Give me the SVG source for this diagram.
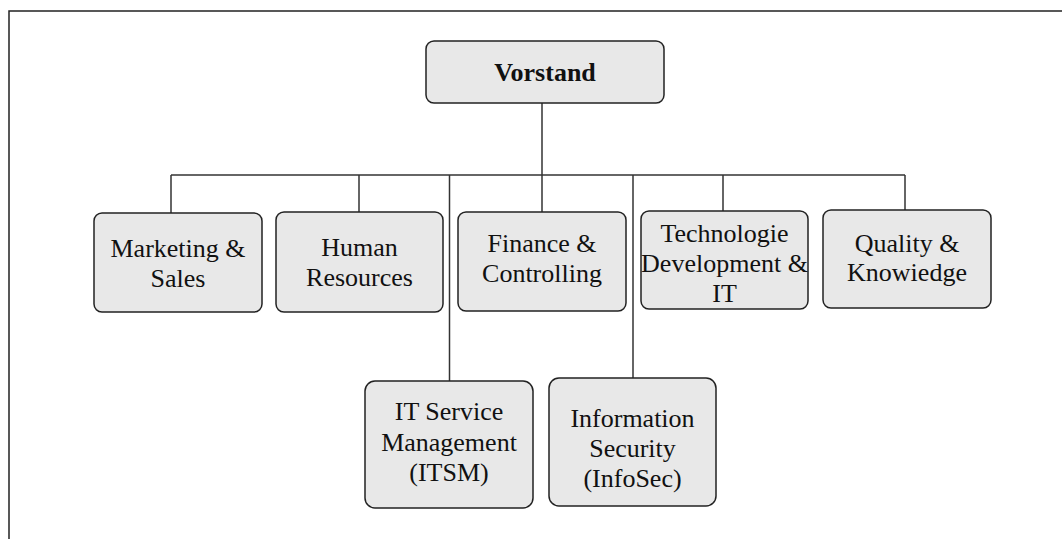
<svg xmlns="http://www.w3.org/2000/svg" width="1062" height="539" viewBox="0 0 1062 539">
<style>
.box{fill:#e8e8e8;stroke:#222;stroke-width:1.5}
.t{font-family:"Liberation Serif","Times New Roman",serif;font-size:26px;fill:#111;text-anchor:middle}
.b{font-weight:bold}
.c{fill:none;stroke:#333;stroke-width:1.5}
.frame{fill:none;stroke:#222;stroke-width:1.5}
</style>
<rect width="1062" height="539" fill="#fff"/>
<path class="frame" d="M9 539 V11 H1062"/>
<g id="connectors">
<path class="c" d="M542 103 V175"/>
<path class="c" d="M171 175 H905"/>
<path class="c" d="M171 175 V213"/>
<path class="c" d="M359 175 V212"/>
<path class="c" d="M449.5 175 V381"/>
<path class="c" d="M542 175 V212"/>
<path class="c" d="M633 175 V378"/>
<path class="c" d="M723 175 V211"/>
<path class="c" d="M905 175 V210"/>
</g>
<g id="vorstand">
<rect class="box" x="426" y="41" width="238" height="62" rx="8"/>
<text class="t b" x="545" y="81">Vorstand</text>
</g>
<g id="marketing">
<rect class="box" x="94" y="213" width="168" height="99" rx="8"/>
<text class="t" x="178" y="257">Marketing &amp;</text>
<text class="t" x="178" y="287">Sales</text>
</g>
<g id="hr">
<rect class="box" x="276" y="212" width="167" height="100" rx="8"/>
<text class="t" x="359.5" y="256">Human</text>
<text class="t" x="359.5" y="286">Resources</text>
</g>
<g id="finance">
<rect class="box" x="458" y="212" width="168" height="99" rx="8"/>
<text class="t" x="542" y="252">Finance &amp;</text>
<text class="t" x="542" y="282">Controlling</text>
</g>
<g id="technologie">
<rect class="box" x="641" y="211" width="167" height="98" rx="8"/>
<text class="t" x="724.5" y="242">Technologie</text>
<text class="t" x="724.5" y="272">Development &amp;</text>
<text class="t" x="724.5" y="302">IT</text>
</g>
<g id="quality">
<rect class="box" x="823" y="210" width="168" height="98" rx="8"/>
<text class="t" x="907" y="252">Quality &amp;</text>
<text class="t" x="907" y="281">Knowiedge</text>
</g>
<g id="itsm">
<rect class="box" x="365" y="381" width="168" height="127" rx="10"/>
<text class="t" x="449" y="420">IT Service</text>
<text class="t" x="449" y="451">Management</text>
<text class="t" x="449" y="481">(ITSM)</text>
</g>
<g id="infosec">
<rect class="box" x="549" y="378" width="167" height="128" rx="10"/>
<text class="t" x="632.5" y="427">Information</text>
<text class="t" x="632.5" y="457">Security</text>
<text class="t" x="632.5" y="487">(InfoSec)</text>
</g>
</svg>
